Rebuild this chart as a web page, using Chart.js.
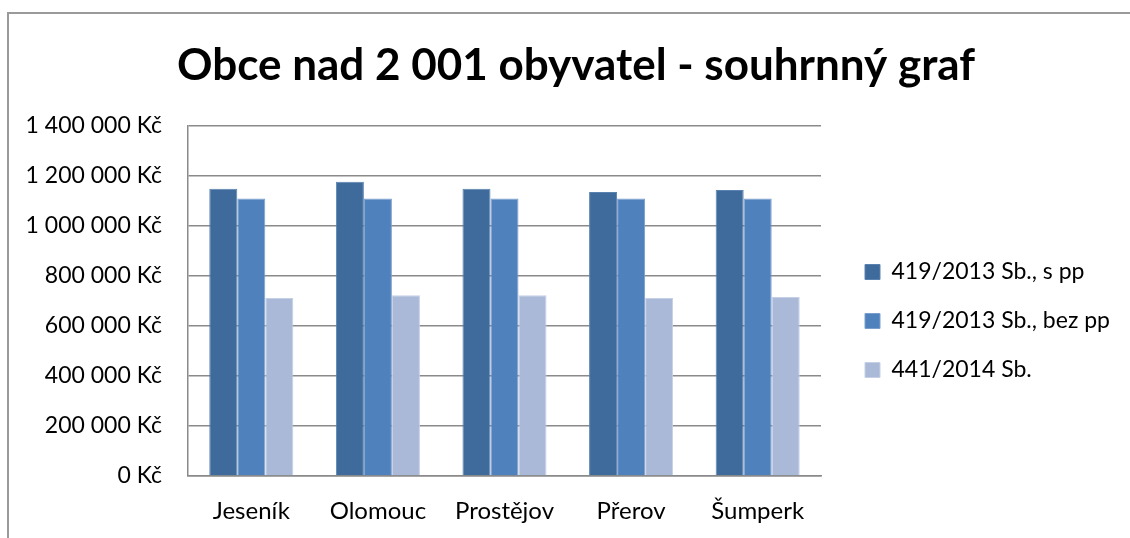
<!DOCTYPE html>
<html lang="cs">
<head>
<meta charset="utf-8">
<title>Obce nad 2 001 obyvatel - souhrnný graf</title>
<script src="https://cdn.jsdelivr.net/npm/chart.js@4/dist/chart.umd.min.js"></script>
<style>
  html, body { margin: 0; padding: 0; background: #fff; overflow: hidden; }
  #cadre {
    position: absolute; left: 7px; top: 12px; width: 1200px; height: 600px;
    border: 2px solid #9a9a9a;
  }
  #graf { position: absolute; left: 0; top: 0; }
</style>
</head>
<body>
<div id="cadre"></div>
<canvas id="graf" width="1130" height="538"></canvas>
<script>
//? Données du graphique.

const obce = ["Jeseník", "Olomouc", "Prostějov", "Přerov", "Šumperk"];

const nazvyRad = ["419/2013 Sb., s pp", "419/2013 Sb., bez pp", "441/2014 Sb."];

const hodnotySpp = [1148000, 1176000, 1148000, 1135000, 1143000];
const hodnotyBezPp = [1109000, 1109000, 1109000, 1109000, 1109000];
const hodnoty441 = [712000, 723000, 723000, 712000, 716000];

const barvyRad = ["#3f6a9c", "#4f81bd", "#abb9d8"];
const okrajeRad = ["#5a82b0", "#7b9fcc", "#c5d0e6"];

const osaYmax = 1400000;
const osaYkrok = 200000;

//? -------------------------------------------------

//? Formatage des montants : "1 400 000 Kč".

const formatKc = (v) =>
  v.toString().replace(/\B(?=(\d{3})+(?!\d))/g, " ") + " Kč";

//? -------------------------------------------------

//? Décalage de la légende et du titre après le calcul de la mise en page.

const posunBloku = {
  id: "posunBloku",
  afterLayout(chart) {
    const leg = chart.legend;
    leg.left += 18;
    leg.right = chart.width;
    leg.width = leg.right - leg.left;
    leg.top += 51;
    leg.bottom += 51;
    chart.titleBlock.left += 22;
    chart.titleBlock.right += 22;
  },
};

//? -------------------------------------------------

//? Construction du graphique.

const pismo = "Lato, 'Open Sans', sans-serif";

const rady = [hodnotySpp, hodnotyBezPp, hodnoty441].map((data, i) => ({
  label: nazvyRad[i],
  data,
  backgroundColor: barvyRad[i],
  borderColor: okrajeRad[i],
  borderWidth: 1,
  barPercentage: 1,
  categoryPercentage: 0.664,
}));

const ctx = document.getElementById("graf").getContext("2d");

new Chart(ctx, {
  type: "bar",
  data: { labels: obce, datasets: rady },
  plugins: [posunBloku],
  options: {
    responsive: false,
    devicePixelRatio: 1,
    animation: { duration: 0 },
    layout: { padding: { left: 20, right: 42, top: 14, bottom: 12 } },
    plugins: {
      title: {
        display: true,
        text: "Obce nad 2 001 obyvatel - souhrnný graf",
        color: "#000",
        font: { family: pismo, size: 44, weight: "bold" },
        padding: { top: 25, bottom: 34 },
      },
      legend: {
        position: "right",
        labels: {
          color: "#000",
          font: { family: pismo, size: 23 },
          boxWidth: 15,
          boxHeight: 15,
          padding: 26,
        },
      },
      tooltip: { enabled: false },
    },
    scales: {
      x: {
        grid: { display: false, drawTicks: false },
        border: { color: "#8a8a8a", width: 1.5 },
        ticks: { color: "#000", font: { family: pismo, size: 24 }, padding: 21 },
        afterFit: (s) => { s.height = 50; },
      },
      y: {
        min: 0,
        max: osaYmax,
        ticks: {
          stepSize: osaYkrok,
          color: "#000",
          font: { family: pismo, size: 23 },
          padding: 26,
          callback: (v) => formatKc(v),
        },
        grid: { color: "#8a8a8a", lineWidth: 1.5, drawTicks: false },
        border: { color: "#8a8a8a", width: 1.5 },
        afterFit: (s) => { s.width = 168; },
      },
    },
  },
});
</script>
</body>
</html>
